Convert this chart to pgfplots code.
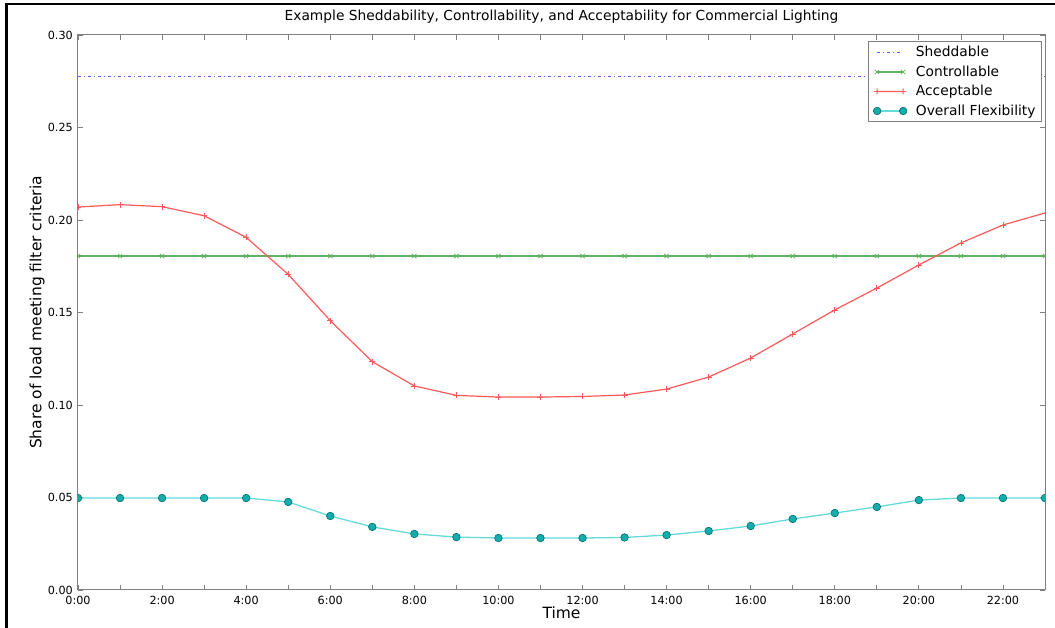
\documentclass[border=0pt]{standalone}
\usepackage{fontspec}
\setmainfont{DejaVu Sans}
\usepackage{pgfplots}
\pgfplotsset{compat=1.18}
\definecolor{shedblue}{rgb}{0.35,0.35,1}
\definecolor{ctrlgreen}{rgb}{0.38,0.70,0.38}
\definecolor{accred}{rgb}{1,0.35,0.35}
\definecolor{flexl}{rgb}{0.4,0.85,0.85}
\definecolor{flexm}{rgb}{0.08,0.68,0.68}
\definecolor{flexe}{rgb}{0.0,0.42,0.42}
\definecolor{txt}{gray}{0.2}
\definecolor{spine}{gray}{0.5}
\begin{document}
\begin{tikzpicture}
\begin{axis}[
  at={(0pt,0pt)}, anchor=south west,
  scale only axis, width=967pt, height=555pt,
  xmin=0, xmax=23, ymin=0, ymax=0.30,
  axis line style={spine, line width=1pt},
  tick style={spine, line width=0.8pt},
  major tick length=5pt, minor tick length=5pt,
  tick align=inside, xtick pos=both, ytick pos=both,
  xtick={0,2,...,22}, minor xtick={1,3,...,23},
  xticklabels={0:00,2:00,4:00,6:00,8:00,10:00,12:00,14:00,16:00,18:00,20:00,22:00},
  ytick={0,0.05,0.1,0.15,0.2,0.25,0.3},
  scaled y ticks=false,
  ticklabel style={font=\fontsize{11.2}{13}\selectfont, inner sep=0pt},
  yticklabel style={anchor=east, xshift=-5pt, /pgf/number format/fixed, /pgf/number format/fixed zerofill, /pgf/number format/precision=2, /pgf/number format/assume math mode=true},
  xticklabel style={anchor=base, yshift=-15pt},
  title={Example Sheddability, Controllability, and Acceptability for Commercial Lighting},
  title style={at={(axis description cs:0.5,1)}, anchor=base, yshift=8pt, inner sep=0pt, font=\fontsize{13.8}{16}\selectfont},
  xlabel={Time},
  xlabel style={at={(axis description cs:0.5,0)}, anchor=base, yshift=-29pt, inner sep=0pt, font=\fontsize{15.5}{18}\selectfont},
  ylabel={Share of load meeting filter criteria},
  ylabel style={at={(axis description cs:-0.0424,0.5)}, anchor=center, inner sep=0pt, font=\fontsize{15.5}{18}\selectfont},
  clip marker paths=true,
  legend image code/.code={\draw[#1] plot coordinates {(0pt,0pt) (26pt,0pt)};},
  legend cell align=left,
  legend style={at={(rel axis cs:0.9969,0.9892)}, anchor=north east,
    draw=spine, line width=1pt, fill=white,
    font=\fontsize{13.8}{15}\selectfont,
    inner xsep=5pt, inner ysep=2.5pt, row sep=2.5pt,
    /tikz/every odd column/.append style={column sep=8pt},
    nodes={inner sep=1pt, text height=12pt, text depth=3pt}},
]
\addplot[color=shedblue, line width=1pt, dash pattern=on 3pt off 3pt on 1pt off 3pt] coordinates {(0,0.2773) (23,0.2773)};
\addlegendentry{Sheddable}
\addplot[color=ctrlgreen, line width=1.2pt, mark=x, mark size=3pt, mark options={line width=0.8pt}] coordinates {
(0,0.1805) (1,0.1805) (2,0.1805) (3,0.1805) (4,0.1805) (5,0.1805) (6,0.1805) (7,0.1805)
(8,0.1805) (9,0.1805) (10,0.1805) (11,0.1805) (12,0.1805) (13,0.1805) (14,0.1805) (15,0.1805)
(16,0.1805) (17,0.1805) (18,0.1805) (19,0.1805) (20,0.1805) (21,0.1805) (22,0.1805) (23,0.1805)};
\addlegendentry{Controllable}
\addplot[color=accred, line width=1.2pt, mark=+, mark size=3pt, mark options={line width=0.8pt, draw=accred},
  legend image code/.code={\fill[fill=accred, draw=none] (0pt,-0.6pt) rectangle (26pt,0.6pt)
    (-3pt,-0.4pt) rectangle (3pt,0.4pt) (-0.4pt,-3pt) rectangle (0.4pt,3pt)
    (23pt,-0.4pt) rectangle (29pt,0.4pt) (25.6pt,-3pt) rectangle (26.4pt,3pt);}] coordinates {
(0,0.2070) (1,0.2083) (2,0.2072) (3,0.2023) (4,0.1906) (5,0.1706) (6,0.1456) (7,0.1234)
(8,0.1103) (9,0.1052) (10,0.1043) (11,0.1043) (12,0.1046) (13,0.1054) (14,0.1086) (15,0.1151)
(16,0.1254) (17,0.1384) (18,0.1514) (19,0.1632) (20,0.1757) (21,0.1876) (22,0.1973) (23,0.2038)};
\addlegendentry{Acceptable}
\addplot[color=flexl, line width=1.3pt, mark=*, mark size=3.8pt, mark options={fill=flexm, draw=flexe, line width=0.6pt}] coordinates {
(0,0.0497) (1,0.0497) (2,0.0497) (3,0.0497) (4,0.0497) (5,0.0476) (6,0.0400) (7,0.0341)
(8,0.0303) (9,0.0286) (10,0.0281) (11,0.0281) (12,0.0281) (13,0.0284) (14,0.0297) (15,0.0319)
(16,0.0346) (17,0.0384) (18,0.0416) (19,0.0449) (20,0.0486) (21,0.0497) (22,0.0497) (23,0.0497)};
\addlegendentry{Overall Flexibility}
\end{axis}
\draw[line width=2.5pt] (-71.5pt,-40pt) -- (-71.5pt,586pt) -- (980pt,586pt);
\pgfresetboundingbox
\path[use as bounding box] (-78pt,-38pt) rectangle (977pt,590pt);
\end{tikzpicture}
\end{document}
